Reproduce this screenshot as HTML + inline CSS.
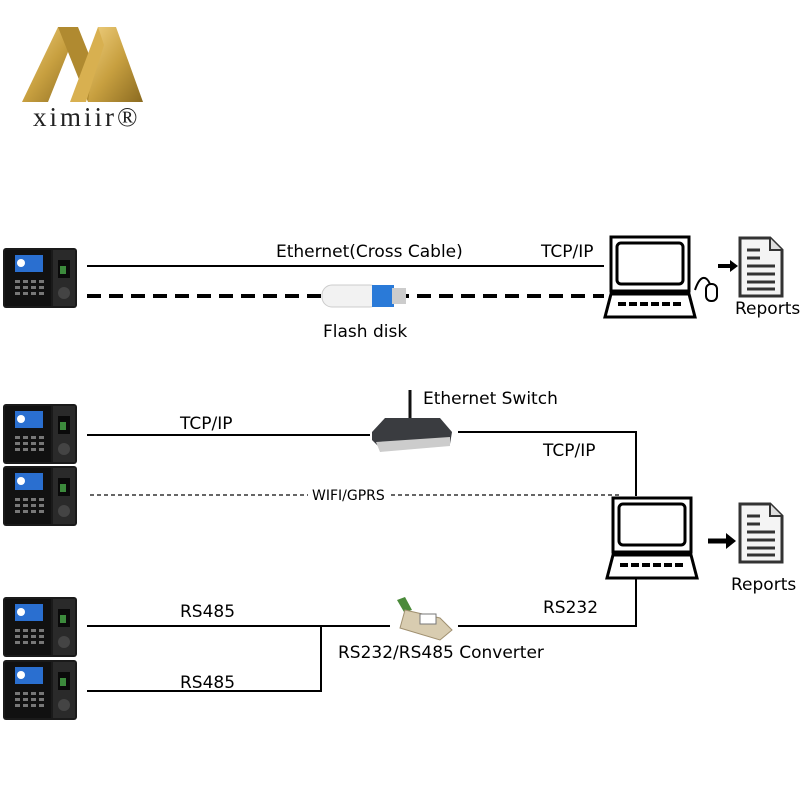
<!DOCTYPE html>
<html><head><meta charset="utf-8"><style>
body{margin:0;background:#fff;}
svg{display:block;font-family:"DejaVu Sans","Liberation Sans",sans-serif;}
</style></head><body>
<svg width="800" height="800" viewBox="0 0 800 800" xmlns="http://www.w3.org/2000/svg">
<defs>
<linearGradient id="gold" x1="0" y1="0" x2="1" y2="1">
<stop offset="0" stop-color="#f0d080"/><stop offset="0.5" stop-color="#c8a040"/><stop offset="1" stop-color="#8a6a20"/>
</linearGradient>
<g id="dev">
<rect x="0" y="0" width="74" height="60" rx="3" fill="#1a1a1a"/>
<rect x="2" y="2" width="46" height="56" fill="#111"/>
<rect x="12" y="7" width="28" height="17" fill="#2a6fd0"/>
<circle cx="18" cy="15" r="4" fill="#fff"/>
<g fill="#777">
<rect x="12" y="32" width="5" height="3"/><rect x="20" y="32" width="5" height="3"/><rect x="28" y="32" width="5" height="3"/><rect x="36" y="32" width="5" height="3"/>
<rect x="12" y="38" width="5" height="3"/><rect x="20" y="38" width="5" height="3"/><rect x="28" y="38" width="5" height="3"/><rect x="36" y="38" width="5" height="3"/>
<rect x="12" y="44" width="5" height="3"/><rect x="20" y="44" width="5" height="3"/><rect x="28" y="44" width="5" height="3"/><rect x="36" y="44" width="5" height="3"/>
</g>
<rect x="50" y="2" width="22" height="56" fill="#2a2a2a"/>
<rect x="55" y="12" width="12" height="18" fill="#0a0a0a"/>
<rect x="57" y="18" width="6" height="8" fill="#3c8a3c"/>
<circle cx="61" cy="45" r="6" fill="#444"/>
</g>
<g id="pc" fill="none" stroke="#000">
<rect x="3" y="0" width="78" height="54" stroke-width="3"/>
<rect x="9" y="6" width="66" height="41" rx="4" stroke-width="3"/>
<path d="M3 57 L81 57 L87 80 L-3 80 Z" stroke-width="3"/>
<path d="M10 67 L74 67" stroke-width="4" stroke-dasharray="8 3"/>
</g>
<g id="rep">
<path d="M0 0 L30 0 L42 12 L42 58 L0 58 Z" fill="#f4f4f4" stroke="#333" stroke-width="3"/>
<path d="M30 0 L30 12 L42 12" fill="#ddd" stroke="#333" stroke-width="2"/>
<g stroke="#333" stroke-width="3"><line x1="7" y1="12" x2="20" y2="12"/><line x1="7" y1="20" x2="20" y2="20"/><line x1="7" y1="28" x2="35" y2="28"/><line x1="7" y1="36" x2="35" y2="36"/><line x1="7" y1="44" x2="35" y2="44"/><line x1="7" y1="51" x2="35" y2="51"/></g>
</g>
</defs>

<!-- logo -->
<polygon points="22,102 58,27 78,27 48,102" fill="url(#gold)"/>
<polygon points="58,27 78,27 108,102 88,102" fill="#b08a30"/>
<polygon points="88,102 98,27 116,27 143,102" fill="url(#gold)"/>
<polygon points="70,102 98,27 104,45 86,102" fill="#d8b050"/>
<text x="33" y="126" font-family="Liberation Serif,serif" font-size="27" fill="#222" letter-spacing="3">ximiir®</text>

<!-- section 1 -->
<use href="#dev" x="3" y="248"/>
<line x1="87" y1="266" x2="604" y2="266" stroke="#000" stroke-width="2"/>
<line x1="87" y1="296" x2="604" y2="296" stroke="#000" stroke-width="4" stroke-dasharray="14 8"/>
<text x="276" y="257" font-size="17">Ethernet(Cross Cable)</text>
<text x="541" y="257" font-size="17">TCP/IP</text>
<rect x="322" y="285" width="58" height="22" rx="10" fill="#f2f2f2" stroke="#ccc"/>
<rect x="372" y="285" width="22" height="22" fill="#2a7ad8"/>
<rect x="392" y="288" width="14" height="16" fill="#ccc"/>
<text x="323" y="337" font-size="17">Flash disk</text>
<use href="#pc" x="608" y="237"/>
<path d="M695 290 C700 275 706 275 710 284" fill="none" stroke="#000" stroke-width="2"/>
<rect x="706" y="284" width="11" height="17" rx="5" fill="#fff" stroke="#000" stroke-width="2"/>
<line x1="718" y1="266" x2="732" y2="266" stroke="#000" stroke-width="4"/>
<polygon points="730,260 738,266 730,272" fill="#000"/>
<use href="#rep" x="740" y="238"/>
<text x="735" y="314" font-size="17">Reports</text>

<!-- section 2 -->
<use href="#dev" x="3" y="404"/>
<use href="#dev" x="3" y="466"/>
<use href="#dev" x="3" y="597"/>
<use href="#dev" x="3" y="660"/>
<line x1="87" y1="435" x2="370" y2="435" stroke="#000" stroke-width="2"/>
<text x="180" y="429" font-size="17">TCP/IP</text>
<line x1="410" y1="390" x2="410" y2="420" stroke="#111" stroke-width="3"/>
<path d="M372 432 L385 418 L440 418 L452 432 L450 444 L380 448 L372 440 Z" fill="#3a3c40"/>
<path d="M376 442 L450 437 L450 446 L380 452 Z" fill="#ccc"/>
<text x="423" y="404" font-size="17">Ethernet Switch</text>
<polyline points="458,432 636,432 636,496" fill="none" stroke="#000" stroke-width="2"/>
<text x="543" y="456" font-size="17">TCP/IP</text>
<line x1="90" y1="495" x2="620" y2="495" stroke="#333" stroke-width="1.5" stroke-dasharray="4 3"/>
<rect x="308" y="486" width="80" height="16" fill="#fff"/>
<text x="312" y="500" font-size="14">WIFI/GPRS</text>
<use href="#pc" x="610" y="498"/>
<line x1="708" y1="541" x2="728" y2="541" stroke="#000" stroke-width="5"/>
<polygon points="726,533 736,541 726,549" fill="#000"/>
<use href="#rep" x="740" y="504"/>
<text x="731" y="590" font-size="17">Reports</text>

<line x1="87" y1="626" x2="390" y2="626" stroke="#000" stroke-width="2"/>
<line x1="87" y1="691" x2="321" y2="691" stroke="#000" stroke-width="2"/>
<line x1="321" y1="626" x2="321" y2="692" stroke="#000" stroke-width="2"/>
<text x="180" y="617" font-size="17">RS485</text>
<text x="180" y="688" font-size="17">RS485</text>
<polyline points="458,626 636,626 636,578" fill="none" stroke="#000" stroke-width="2"/>
<text x="543" y="613" font-size="17">RS232</text>
<path d="M397 600 L405 597 L412 610 L404 612 Z" fill="#4a8a3a"/>
<path d="M405 610 L440 618 L452 630 L440 640 L400 628 Z" fill="#d8ccb0" stroke="#a09070"/>
<rect x="420" y="614" width="16" height="10" fill="#fff" stroke="#777"/>
<text x="338" y="658" font-size="17">RS232/RS485 Converter</text>
</svg>
</body></html>
